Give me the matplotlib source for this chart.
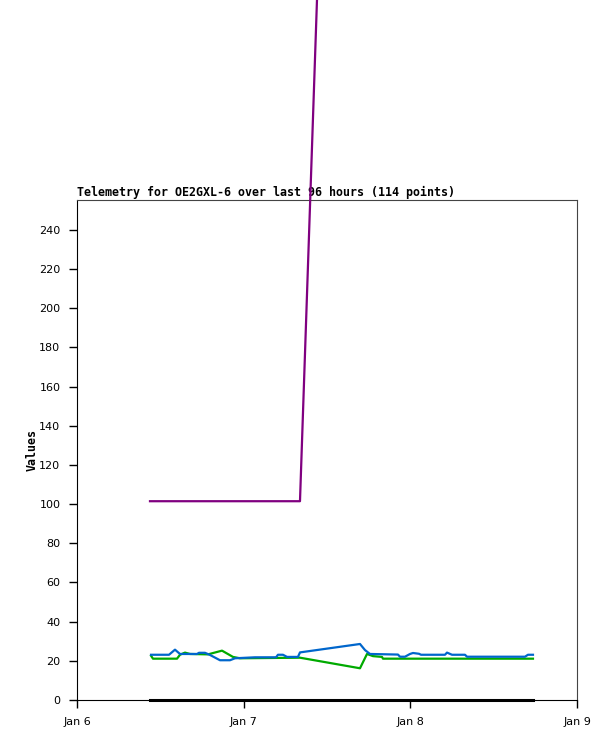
import datetime as dt
import matplotlib
matplotlib.use("Agg")
import matplotlib.pyplot as plt

start = dt.datetime(2024, 1, 6)

# hours after Jan 6 00:00 and values
blue_hours = [10.66, 13.25, 14.11, 14.83, 17.28, 17.57, 18.43, 19.15, 20.59, 22.03,
              22.75, 25.63, 28.66, 28.94, 29.66, 30.24, 31.82, 32.11, 40.75, 41.47,
              42.19, 46.22, 46.51, 47.23, 47.95, 48.38, 49.25, 49.54, 52.99, 53.28,
              54.00, 55.87, 56.16, 64.51, 64.94, 65.66]
blue_vals = [23.1, 23.1, 25.7, 23.5, 23.5, 24.1, 24.1, 23.0, 20.3, 20.3,
             21.3, 21.8, 21.8, 23.1, 23.1, 22.0, 22.0, 24.3, 28.6, 25.5,
             23.5, 23.2, 22.1, 22.1, 23.5, 24.0, 23.6, 23.1, 23.1, 24.2,
             23.1, 23.1, 22.1, 22.1, 23.1, 23.1]

green_hours = [10.66, 10.94, 14.40, 14.83, 15.55, 16.27, 18.86, 20.88, 22.46, 23.47,
               32.11, 40.75, 41.76, 42.62, 43.92, 44.06, 65.66]
green_vals = [22.6, 21.1, 21.1, 23.1, 24.2, 23.5, 23.3, 25.2, 22.0, 21.3,
              21.6, 16.2, 23.5, 22.4, 22.0, 21.1, 21.1]

purple_hours = [10.51, 32.11, 40.75, 65.66]
purple_vals = [101.5, 101.5, 1005, 1005]

black_hours = [10.51, 65.66]
black_vals = [0, 0]

yticks = list(range(0, 241, 20))
xtick_labels = ['Jan 6', 'Jan 7', 'Jan 8', 'Jan 9']
title = "Telemetry for OE2GXL-6 over last 96 hours (114 points)"


def to_dates(hours):
    return [start + dt.timedelta(hours=h) for h in hours]


fig = plt.figure(figsize=(6.15, 7.41), dpi=100)
ax = fig.add_axes([77 / 615, 41 / 741, 500 / 615, 500 / 741])

ax.plot(to_dates(green_hours), green_vals, color='#00aa00', lw=1.6, zorder=3)
ax.plot(to_dates(blue_hours), blue_vals, color='#0066cc', lw=1.6, zorder=3)
ax.plot(to_dates(purple_hours), purple_vals, color='#800080', lw=1.6, zorder=5, clip_on=False)
ax.plot(to_dates(black_hours), black_vals, color='black', lw=2.2, zorder=5, clip_on=False)

ax.set_xlim(start, start + dt.timedelta(days=3))
ax.set_ylim(0, 255.3)
ax.set_xticks([start + dt.timedelta(days=i) for i in range(4)])
ax.set_xticklabels(xtick_labels)
ax.set_yticks(yticks)
ax.tick_params(axis='both', length=6, width=1, pad=6, labelsize=8, colors='black')

for s in ['top', 'right']:
    ax.spines[s].set_color('#444444')
for s in ['left', 'bottom']:
    ax.spines[s].set_color('black')

ax.set_ylabel('Values', fontsize=8.4, fontweight='bold', family='DejaVu Sans Mono', labelpad=0)
ax.set_title(title, loc='left', fontsize=8.4, fontweight='bold', family='DejaVu Sans Mono', pad=3)

fig.savefig('out.png', dpi=100)
